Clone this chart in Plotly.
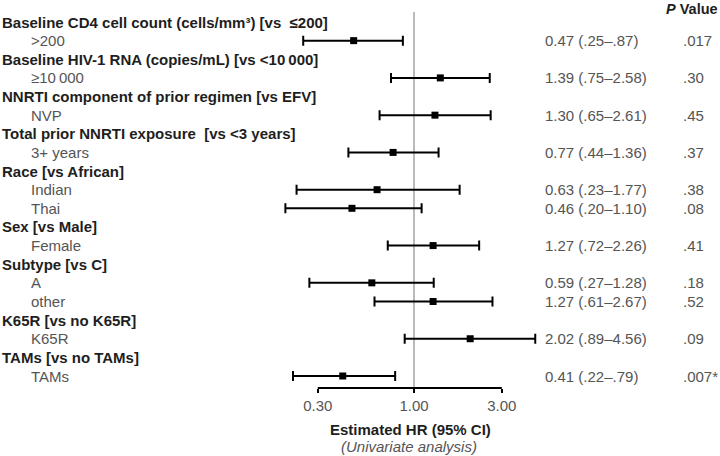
import math
import plotly.graph_objects as go

# ---- data ----
row_labels = [
    "Baseline CD4 cell count (cells/mm³) [vs\u00a0 ≤200]", ">200",
    "Baseline HIV-1 RNA (copies/mL) [vs <10\u2009000]", "≥10\u2009000",
    "NNRTI component of prior regimen [vs EFV]", "NVP",
    "Total prior NNRTI exposure\u00a0 [vs <3 years]", "3+ years",
    "Race [vs African]", "Indian", "Thai",
    "Sex [vs Male]", "Female",
    "Subtype [vs C]", "A", "other",
    "K65R [vs no K65R]", "K65R",
    "TAMs [vs no TAMs]", "TAMs",
]
is_header = [True, False, True, False, True, False, True, False,
             True, False, False, True, False, True, False, False,
             True, False, True, False]
hr = [None, 0.47, None, 1.39, None, 1.30, None, 0.77, None, 0.63, 0.46,
      None, 1.27, None, 0.59, 1.27, None, 2.02, None, 0.41]
ci_lo = [None, 0.25, None, 0.75, None, 0.65, None, 0.44, None, 0.23, 0.20,
         None, 0.72, None, 0.27, 0.61, None, 0.89, None, 0.22]
ci_hi = [None, 0.87, None, 2.58, None, 2.61, None, 1.36, None, 1.77, 1.10,
         None, 2.26, None, 1.28, 2.67, None, 4.56, None, 0.79]
hr_text = [None, "0.47 (.25–.87)", None, "1.39 (.75–2.58)", None, "1.30 (.65–2.61)",
           None, "0.77 (.44–1.36)", None, "0.63 (.23–1.77)", "0.46 (.20–1.10)",
           None, "1.27 (.72–2.26)", None, "0.59 (.27–1.28)", "1.27 (.61–2.67)",
           None, "2.02 (.89–4.56)", None, "0.41 (.22–.79)"]
p_values = [None, ".017", None, ".30", None, ".45", None, ".37", None, ".38", ".08",
            None, ".41", None, ".18", ".52", None, ".09", None, ".007*"]
tick_vals = [0.3, 1.0, 3.0]
tick_text = ["0.30", "1.00", "3.00"]

# ---- layout geometry (window pixels) ----
W, H = 720, 456
L, R, T, B = 240, 175, 12, 68
PW = W - L - R
PH = H - T - B


def px(x):
    return (x - L) / PW


def py(y):
    return (H - B - y) / PH


idx = [i for i, v in enumerate(hr) if v is not None]
xs = [hr[i] for i in idx]
ys = idx
plus = [ci_hi[i] - hr[i] for i in idx]
minus = [hr[i] - ci_lo[i] for i in idx]

fig = go.Figure()
fig.add_trace(go.Scatter(
    x=xs, y=ys, mode="markers",
    marker=dict(symbol="square", size=7, color="black"),
    error_x=dict(type="data", symmetric=False, array=plus, arrayminus=minus,
                 color="black", thickness=2, width=5),
    showlegend=False, hoverinfo="skip",
))

annotations = []
sub_color = "#555555"
head_color = "#1e1e1e"
SUB = 15
HEAD = 15
for i, lab in enumerate(row_labels):
    if is_header[i]:
        annotations.append(dict(x=px(0), xref="paper", y=i, yref="y", text="<b>" + lab + "</b>",
                                xanchor="left", yanchor="middle", showarrow=False,
                                font=dict(size=HEAD, color=head_color)))
    else:
        annotations.append(dict(x=px(29), xref="paper", y=i, yref="y", text=lab,
                                xanchor="left", yanchor="middle", showarrow=False,
                                font=dict(size=SUB, color=sub_color)))
    if hr_text[i]:
        annotations.append(dict(x=px(543), xref="paper", y=i, yref="y", text=hr_text[i],
                                xanchor="left", yanchor="middle", showarrow=False,
                                font=dict(size=SUB, color=sub_color)))
    if p_values[i]:
        annotations.append(dict(x=px(681), xref="paper", y=i, yref="y", text=p_values[i],
                                xanchor="left", yanchor="middle", showarrow=False,
                                font=dict(size=SUB, color=sub_color)))

annotations.append(dict(x=px(692), xref="paper", y=py(9), yref="paper",
                        text="<b><i>P</i> Value</b>", xanchor="center", yanchor="middle",
                        showarrow=False, font=dict(size=14.5, color=head_color)))
annotations.append(dict(x=px(410), xref="paper", y=py(429), yref="paper",
                        text="<b>Estimated HR (95% CI)</b>", xanchor="center", yanchor="middle",
                        showarrow=False, font=dict(size=15, color=head_color)))
annotations.append(dict(x=px(409), xref="paper", y=py(446), yref="paper",
                        text="<i>(Univariate analysis)</i>", xanchor="center", yanchor="middle",
                        showarrow=False, font=dict(size=15, color=sub_color)))

px_per_dec = 184.0
x_lo = math.log10(1.0) - (414 - L) / px_per_dec
x_hi = x_lo + PW / px_per_dec

fig.update_layout(
    width=W, height=H,
    margin=dict(l=L, r=R, t=T, b=B, autoexpand=False),
    paper_bgcolor="white", plot_bgcolor="white",
    font=dict(family="Liberation Sans, Arial, sans-serif"),
    xaxis=dict(type="log", range=[x_lo, x_hi], showgrid=False, zeroline=False,
               showline=False, tickvals=tick_vals, ticktext=tick_text,
               ticks="outside", ticklen=4, tickwidth=1.5, tickcolor="black",
               tickfont=dict(size=SUB, color=sub_color)),
    yaxis=dict(range=[len(row_labels) - 1 + 0.644, -0.537], visible=False,
               showgrid=False, zeroline=False),
    shapes=[
        dict(type="line", xref="x", yref="paper", x0=1, x1=1, y0=0, y1=1,
             line=dict(color="#777777", width=1), layer="below"),
        dict(type="line", xref="x", yref="paper", x0=tick_vals[0], x1=tick_vals[-1],
             y0=0, y1=0, line=dict(color="black", width=2)),
    ],
    annotations=annotations,
)

fig.write_html(
    "out.html",
    config={"displayModeBar": False},
    post_script="document.body.style.margin='0';document.body.style.padding='0';"
                "document.body.style.overflow='hidden';",
)
